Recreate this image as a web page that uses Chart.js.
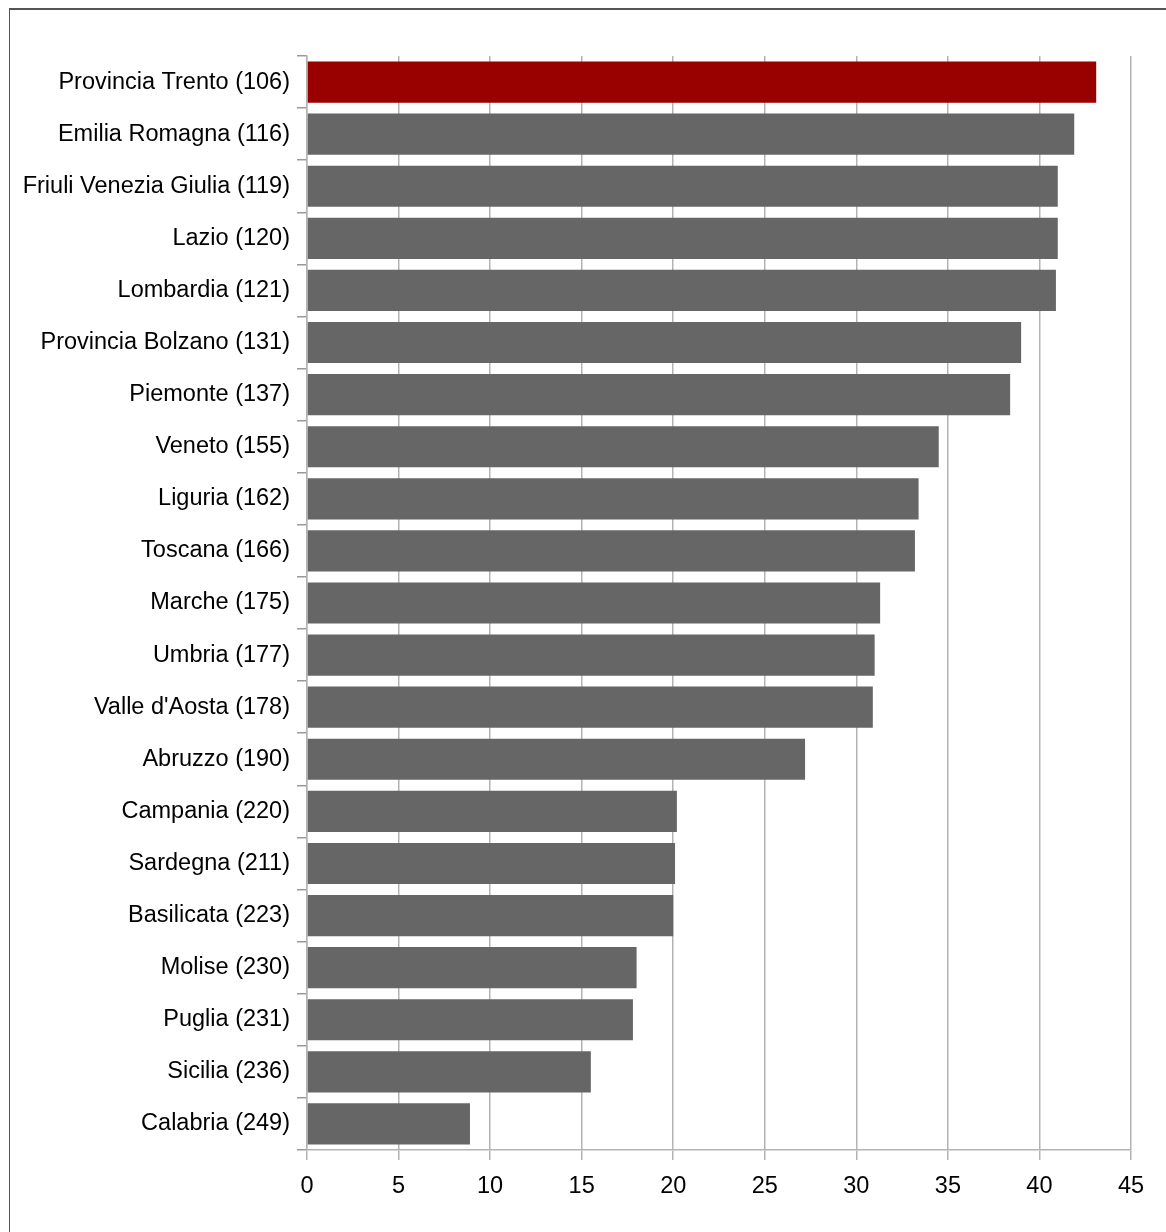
<!DOCTYPE html>
<html>
<head>
<meta charset="utf-8">
<script src="https://cdn.jsdelivr.net/npm/chart.js@4/dist/chart.umd.min.js"></script>
<style>
  html, body { margin: 0; padding: 0; background: #fff; overflow: hidden; }
  #frame {
    position: absolute; left: 9px; top: 8px; width: 1400px; height: 1400px;
    border-top: 2px solid #555; border-left: 1px solid #555;
  }
  #wrap { position: absolute; left: 0; top: 0; width: 1166px; height: 1232px; }
</style>
</head>
<body>
<div id="frame"></div>
<div id="wrap"><canvas id="regionChart"></canvas></div>
<script>
const regions = [
  "Provincia Trento (106)", "Emilia Romagna (116)", "Friuli Venezia Giulia (119)",
  "Lazio (120)", "Lombardia (121)", "Provincia Bolzano (131)", "Piemonte (137)",
  "Veneto (155)", "Liguria (162)", "Toscana (166)", "Marche (175)", "Umbria (177)",
  "Valle d'Aosta (178)", "Abruzzo (190)", "Campania (220)", "Sardegna (211)",
  "Basilicata (223)", "Molise (230)", "Puglia (231)", "Sicilia (236)", "Calabria (249)"
];
const scores = [
  43.1, 41.9, 41.0, 41.0, 40.9, 39.0, 38.4, 34.5, 33.4, 33.2, 31.3,
  31.0, 30.9, 27.2, 20.2, 20.1, 20.0, 18.0, 17.8, 15.5, 8.9
];
const highlight = "Provincia Trento (106)";

const font = { family: "'Liberation Sans', Arial, sans-serif", size: 23.5 };

new Chart(document.getElementById("regionChart"), {
  type: "bar",
  data: {
    labels: regions,
    datasets: [{
      data: scores,
      backgroundColor: regions.map(r => r === highlight ? "#990000" : "#666666"),
      barPercentage: 0.79,
      categoryPercentage: 1
    }]
  },
  options: {
    indexAxis: "y",
    responsive: true,
    maintainAspectRatio: false,
    animation: false,
    layout: { padding: { top: 56, right: 35, left: 0, bottom: 0 } },
    plugins: { legend: { display: false }, tooltip: { enabled: false } },
    scales: {
      x: {
        min: 0,
        max: 45,
        ticks: { stepSize: 5, color: "#000", font: font, padding: 12 },
        grid: { color: "#b3b3b3", lineWidth: 1.5, tickLength: 10 },
        border: { color: "#b3b3b3", width: 1.5 },
        afterFit(scale) { scale.height = 82; }
      },
      y: {
        ticks: { color: "#000", font: font, padding: 7 },
        grid: { drawOnChartArea: false, color: "#999", tickLength: 10, lineWidth: 1.5 },
        border: { color: "#b3b3b3", width: 1.5 },
        afterFit(scale) { scale.width = 307; }
      }
    }
  }
});
</script>
</body>
</html>
